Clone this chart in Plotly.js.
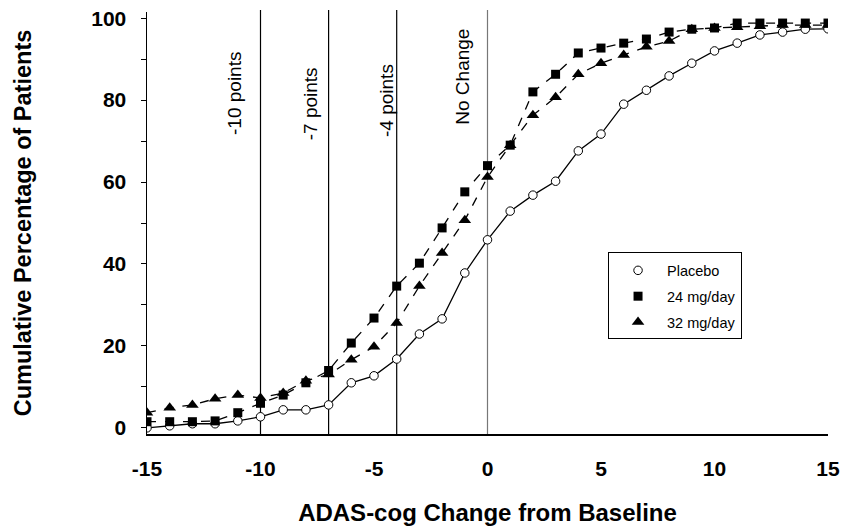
<!DOCTYPE html>
<html>
<head>
<meta charset="utf-8">
<script src="https://cdn.plot.ly/plotly-3.0.1.min.js"></script>
<style>html,body{margin:0;padding:0;background:#fff;}#chart{width:843px;height:529px;}</style>
</head>
<body>
<div id="chart"></div>
<script>
const changeFromBaseline = [-15,-14,-13,-12,-11,-10,-9,-8,-7,-6,-5,-4,-3,-2,-1,0,1,2,3,4,5,6,7,8,9,10,11,12,13,14,15];
const placebo = [0,0.5,1,1,1.7,2.7,4.4,4.4,5.6,11,12.7,16.8,22.9,26.6,37.8,45.9,52.9,56.8,60.2,67.6,71.7,79,82.4,85.9,89,92,93.9,95.9,96.6,97.3,97.4];
const mg24 = [1.5,1.5,1.5,1.7,3.7,6,8,11,14,20.7,26.8,34.6,40.2,48.8,57.6,64,69,82,86.3,91.5,92.7,93.9,94.9,96.6,97.3,97.6,98.8,98.8,98.8,98.8,98.8];
const mg32 = [3.7,4.9,5.6,7.1,8,7.3,8.5,11.5,13,16.6,19.8,25.6,34.6,42.7,50.7,61.2,69,76.3,80.7,86.3,89,91,93,94.4,97.3,97.6,97.8,98,98.3,98.3,98.3];
const refLines = [-10,-7,-4,0];
const refLabels = ['-10 points','-7 points','-4 points','No Change'];
const refColors = ['#000','#000','#000','#777'];
const refLabelShift = [-26,-18,-10,-25];
const refLabelTop = [0.91,0.874,0.882,0.964];
const seriesNames = ['Placebo','24 mg/day','32 mg/day'];
const yTicks = [0,20,40,60,80,100];
const xTicks = [-15,-10,-5,0,5,10,15];

const font = 'Arial, "Liberation Sans", sans-serif';
const markerStyles = [
  {symbol:'circle', size:8.5, color:'#fff', line:{color:'#000', width:1}},
  {symbol:'square', size:9, color:'#000'},
  {symbol:'triangle-up', size:11, color:'#000'}
];
const seriesValues = [placebo, mg24, mg32];
const lineStyles = [
  {color:'#000', width:1.3},
  {color:'#000', width:1.3, dash:'dash'},
  {color:'#000', width:1.3, dash:'dash'}
];
const traces = [];
seriesValues.forEach((vals,i)=>{
  traces.push({x: changeFromBaseline, y: vals, name: seriesNames[i], mode:'lines+markers', showlegend:false,
    line: lineStyles[i], marker: markerStyles[i]});
});
seriesValues.forEach((vals,i)=>{
  traces.push({x:[null], y:[null], name: seriesNames[i], mode:'markers', legendgroup:'g'+i, showlegend:true,
    marker: markerStyles[i]});
});
const shapes = refLines.map((v,i)=>({type:'line', xref:'x', yref:'paper', x0:v, x1:v, y0:0, y1:1.005, layer:'below',
  line:{color:refColors[i], width:1.2}}));
const annotations = refLines.map((v,i)=>({x:v, xref:'x', y:refLabelTop[i], yref:'paper', text:refLabels[i], showarrow:false,
  textangle:-90, xshift:refLabelShift[i], xanchor:'center', yanchor:'top', font:{family:font, size:19, color:'#000'}}));
const layout = {
  width:843, height:529,
  margin:{l:147, r:15, t:12, b:95},
  paper_bgcolor:'#fff', plot_bgcolor:'#fff',
  showlegend:true,
  legend:{x:0.677, y:0.431, xanchor:'left', yanchor:'top', bordercolor:'#000', borderwidth:1, bgcolor:'#fff',
    font:{family:font, size:14.5, color:'#000'}, tracegroupgap:4, itemwidth:48,
    title:{text:' ', font:{size:1}}},
  xaxis:{range:[-15,15], tickvals:xTicks, ticktext:xTicks.map(String), showgrid:false, zeroline:false,
    showline:true, linecolor:'#000', linewidth:1.5, ticks:'', ticklabelstandoff:15,
    tickfont:{family:font, size:21, color:'#000', weight:'bold'},
    title:{text:'<b>ADAS-cog Change from Baseline</b>', font:{family:font, size:24, color:'#000'}, standoff:25}},
  yaxis:{range:[-1.5,101.5], tickvals:yTicks, showgrid:false, zeroline:false,
    showline:true, linecolor:'#000', linewidth:1.5, ticks:'outside', ticklen:5, tickcolor:'#000', ticklabelstandoff:10,
    minor:{dtick:10, tick0:10, ticks:'outside', ticklen:5, tickcolor:'#000'},
    tickfont:{family:font, size:21, color:'#000', weight:'bold'},
    title:{text:'<b>Cumulative Percentage of Patients</b>', font:{family:font, size:23.5, color:'#000'}, standoff:53}},
  shapes: shapes,
  annotations: annotations
};
Plotly.newPlot('chart', traces, layout, {staticPlot:true});
</script>
</body>
</html>
